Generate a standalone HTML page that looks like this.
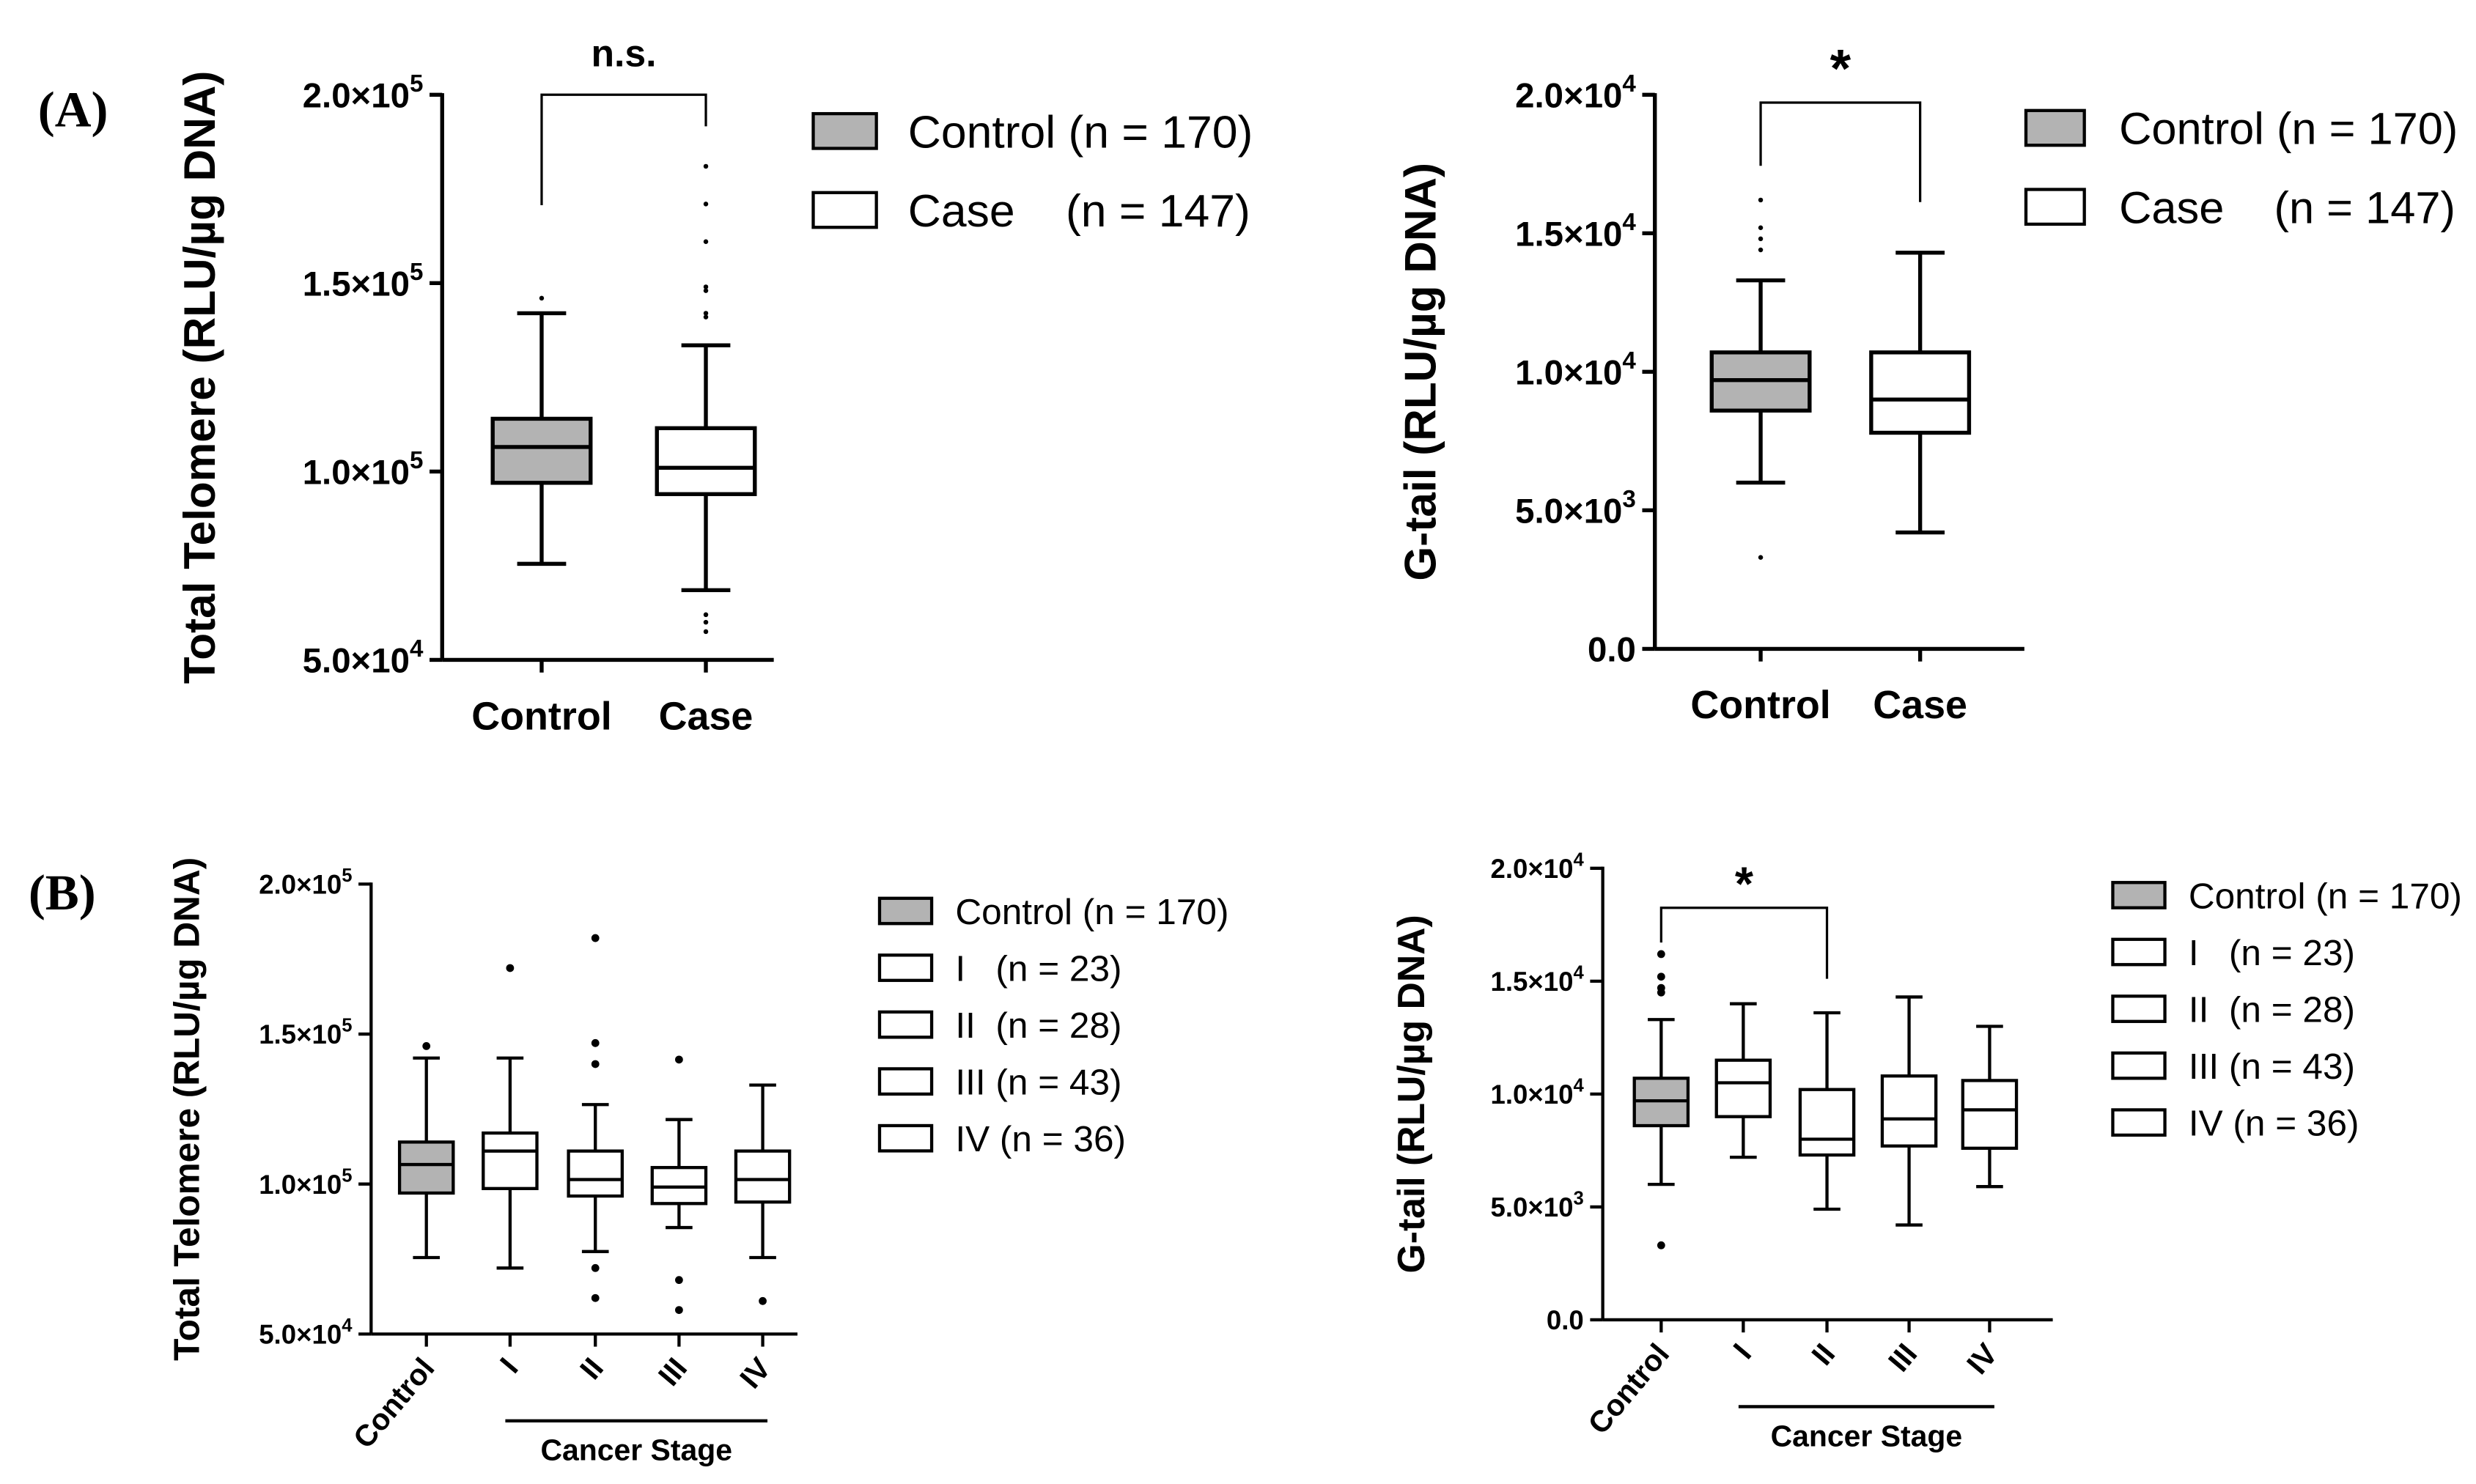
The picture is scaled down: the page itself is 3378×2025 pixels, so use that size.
<!DOCTYPE html>
<html><head><meta charset="utf-8"><style>
html,body{margin:0;padding:0;background:#fff}
svg{display:block}
text{font-family:"Liberation Sans",Arial,sans-serif;fill:#000}
</style></head><body>
<svg id="fig" width="3378" height="2025" viewBox="0 0 1568 940" xmlns="http://www.w3.org/2000/svg">
<text x="24" y="80" style="font-family:'Liberation Serif',serif;font-weight:bold;font-size:32px">(A)</text>
<text x="18" y="576" style="font-family:'Liberation Serif',serif;font-weight:bold;font-size:32px">(B)</text>
</svg>
<script>
// Panel A left: Total telomere
const aLCats=["Control","Case"];
const aLQ1=[97000,94000],aLMed=[106500,101000],aLQ3=[114000,111500],aLLo=[75500,68500],aLHi=[142000,133500];
const aLOut=[[146000],[141000,142000,148000,149000,161000,171000,181000,62000,60000,57500]];
const aLTicks=[50000,100000,150000,200000],aLTickLbl=["5.0×10","1.0×10","1.5×10","2.0×10"],aLExp=["4","5","5","5"];
// Panel A right: G-tail
const aRCats=["Control","Case"];
const aRQ1=[8600,7800],aRMed=[9700,9000],aRQ3=[10700,10700],aRLo=[6000,4200],aRHi=[13300,14300];
const aROut=[[3300,14400,14800,15200,16200],[]];
const aRTicks=[0,5000,10000,15000,20000],aRTickLbl=["0.0","5.0×10","1.0×10","1.5×10","2.0×10"],aRExp=["","3","4","4","4"];
// Panel B left
const bLCats=["Control","I","II","III","IV"];
const bLQ1=[97000,98500,96000,93500,94000],bLMed=[106500,111000,101500,99000,101500],bLQ3=[114000,117000,111000,105500,111000];
const bLLo=[75500,72000,77500,85500,75500],bLHi=[142000,142000,126500,121500,133000];
const bLOut=[[146000],[172000],[140000,147000,182000,72000,62000],[141500,68000,58000],[61000]];
// Panel B right
const bRCats=["Control","I","II","III","IV"];
const bRQ1=[8600,9000,7300,7700,7600],bRMed=[9700,10500,8000,8900,9300],bRQ3=[10700,11500,10200,10800,10600];
const bRLo=[6000,7200,4900,4200,5900],bRHi=[13300,14000,13600,14300,13000];
const bROut=[[3300,14500,14700,15200,16200],[],[],[],[]];

const svg=document.getElementById('fig');const NS="http://www.w3.org/2000/svg";
function mk(t,a,p){const e=document.createElementNS(NS,t);for(const k in a)e.setAttribute(k,a[k]);(p||svg).appendChild(e);return e;}

function panel(o){
  const g=mk('g',{});
  
  
  const y=v=>o.y0+(v-o.v0)/(o.v1-o.v0)*(o.y1-o.y0);
  const lw=o.lw;
  const ax=mk('line',{x1:o.ax,y1:y(o.v1)-1,x2:o.ax,y2:o.y0,stroke:'#000','stroke-width':lw},g);
  
  const xa=mk('line',{x1:o.ax,y1:o.y0,x2:o.axEnd,y2:o.y0,stroke:'#000','stroke-width':lw},g);
  
  o.ticks.forEach((t,i)=>{
    mk('line',{x1:o.ax-8,y1:y(t),x2:o.ax,y2:y(t),stroke:'#000','stroke-width':lw},g);
    const tx=mk('text',{x:o.ax-12,y:y(t)+o.tf*0.36,'text-anchor':'end','font-size':o.tf,'font-weight':'bold'},g);
    
    tx.textContent=o.tl[i];
    if(o.ex[i]){const s=mk('tspan',{dy:-o.tf*0.45,'font-size':o.tf*0.7},tx);s.textContent=o.ex[i];}
  });
  const yt=mk('text',{transform:`translate(${o.ytx},${(o.y0+y(o.v1))/2}) rotate(-90)`,'text-anchor':'middle','font-size':o.yf,'font-weight':'bold'},g);
  
  yt.textContent=o.ytitle;
  o.cats.forEach((c,i)=>{
    const cx=o.xs[i],hw=o.bw/2;
    mk('line',{x1:cx,y1:o.y0,x2:cx,y2:o.y0+8,stroke:'#000','stroke-width':lw},g);
    const l=mk('line',{x1:cx,y1:y(o.lo[i]),x2:cx,y2:y(o.hi[i]),stroke:'#000','stroke-width':lw},g);
    
    [o.lo[i],o.hi[i]].forEach(v=>mk('line',{x1:cx-hw/2,y1:y(v),x2:cx+hw/2,y2:y(v),stroke:'#000','stroke-width':lw},g));
    const b=mk('rect',{x:cx-hw,y:y(o.q3[i]),width:o.bw,height:y(o.q1[i])-y(o.q3[i]),fill:i==0?'#b3b3b3':'#fff',stroke:'#000','stroke-width':lw},g);
    
    const m=mk('line',{x1:cx-hw,y1:y(o.med[i]),x2:cx+hw,y2:y(o.med[i]),stroke:'#000','stroke-width':lw},g);
    
    o.out[i].forEach(v=>{const p=mk('circle',{cx:cx,cy:y(v),r:o.pr,fill:'#000'},g);
      });
    let lab;
    if(o.rot){lab=mk('text',{transform:`translate(${cx+6},${o.y0+22}) rotate(-50)`,'text-anchor':'end','font-size':o.xf,'font-weight':'bold'},g);}
    else lab=mk('text',{x:cx,y:o.y0+44,'text-anchor':'middle','font-size':o.xf,'font-weight':'bold'},g);
    
    lab.textContent=c;
  });
  if(o.stage){
    mk('line',{x1:o.xs[1]-3,y1:o.stage,x2:o.xs[4]+3,y2:o.stage,stroke:'#000','stroke-width':2},g);
    const s=mk('text',{x:(o.xs[1]+o.xs[4])/2,y:o.stage+25,'text-anchor':'middle','font-size':19,'font-weight':'bold'},g);
    s.textContent='Cancer Stage';
  }
  const br=o.br;
  if(br.t){
  const bp=mk('path',{d:`M${o.xs[br.a]},${br.ya} V${br.top} H${o.xs[br.b]} V${br.yb}`,fill:'none',stroke:'#000','stroke-width':1.5},g);
  
  const st=mk('text',{x:(o.xs[br.a]+o.xs[br.b])/2,y:br.ty,'text-anchor':'middle','font-size':br.fs,'font-weight':'bold'},g);
  st.textContent=br.t;
  }
  o.leg.forEach((t,i)=>{
    const ly=o.lg.y+i*o.lg.dy;
    const r=mk('rect',{x:o.lg.x,y:ly-o.lg.h/2,width:o.lg.w,height:o.lg.h,fill:i==0?'#b3b3b3':'#fff',stroke:'#000','stroke-width':2},g);
    
    const tx=mk('text',{x:o.lg.x+o.lg.w+o.lg.gap,y:ly+o.lg.fs*0.36,'font-size':o.lg.fs},g);
    
    tx.style.whiteSpace='pre';tx.textContent=t;
  });
}
const legA=["Control (n = 170)","Case    (n = 147)"];
const legB=["Control (n = 170)","I   (n = 23)","II  (n = 28)","III (n = 43)","IV (n = 36)"];
panel({name:'panel-a-total-telomere',ax:280,axEnd:490,y0:418,y1:60,v0:50000,v1:200000,ticks:aLTicks,tl:aLTickLbl,ex:aLExp,tf:22,
 ytitle:'Total Telomere (RLU/µg DNA)',ytx:136,yf:28,cats:aLCats,xs:[343,447],bw:62,q1:aLQ1,med:aLMed,q3:aLQ3,lo:aLLo,hi:aLHi,out:aLOut,
 pr:1.5,lw:2.5,xf:25,br:{a:0,b:1,ya:130,yb:80,top:60,ty:42,t:'n.s.',fs:24},leg:legA,lg:{x:515,y:83,dy:50,w:40,h:22,gap:20,fs:29}});
panel({name:'panel-a-g-tail',ax:1048,axEnd:1282,y0:411,y1:60,v0:0,v1:20000,ticks:aRTicks,tl:aRTickLbl,ex:aRExp,tf:22,
 ytitle:'G-tail (RLU/µg DNA)',ytx:909,yf:28,cats:aRCats,xs:[1115,1216],bw:62,q1:aRQ1,med:aRMed,q3:aRQ3,lo:aRLo,hi:aRHi,out:aROut,
 pr:1.5,lw:2.5,xf:25,br:{a:0,b:1,ya:105,yb:128,top:65,ty:55,t:'*',fs:34},leg:legA,lg:{x:1283,y:81,dy:50,w:37,h:22,gap:22,fs:28.5}});
panel({name:'panel-b-total-telomere',ax:235,axEnd:505,y0:845,y1:560,v0:50000,v1:200000,ticks:aLTicks,tl:aLTickLbl,ex:aLExp,tf:17,
 ytitle:'Total Telomere (RLU/µg DNA)',ytx:126,yf:23,cats:bLCats,xs:[270,323,377,430,483],bw:34,q1:bLQ1,med:bLMed,q3:bLQ3,lo:bLLo,hi:bLHi,out:bLOut,
 pr:2.5,lw:2,xf:19,rot:true,stage:900,br:{a:0,b:0,ya:0,yb:0,top:0,ty:0,t:'',fs:1},leg:legB,lg:{x:557,y:577,dy:36,w:33,h:16,gap:15,fs:23}});
panel({name:'panel-b-g-tail',ax:1015,axEnd:1300,y0:836,y1:550,v0:0,v1:20000,ticks:aRTicks,tl:aRTickLbl,ex:aRExp,tf:17,
 ytitle:'G-tail (RLU/µg DNA)',ytx:902,yf:24,cats:bRCats,xs:[1052,1104,1157,1209,1260],bw:34,q1:bRQ1,med:bRMed,q3:bRQ3,lo:bRLo,hi:bRHi,out:bROut,
 pr:2.5,lw:2,xf:19,rot:true,stage:891,br:{a:0,b:2,ya:597,yb:620,top:575,ty:570,t:'*',fs:30},leg:legB,lg:{x:1338,y:567,dy:36,w:33,h:16,gap:15,fs:23}});
</script>
</body></html>
